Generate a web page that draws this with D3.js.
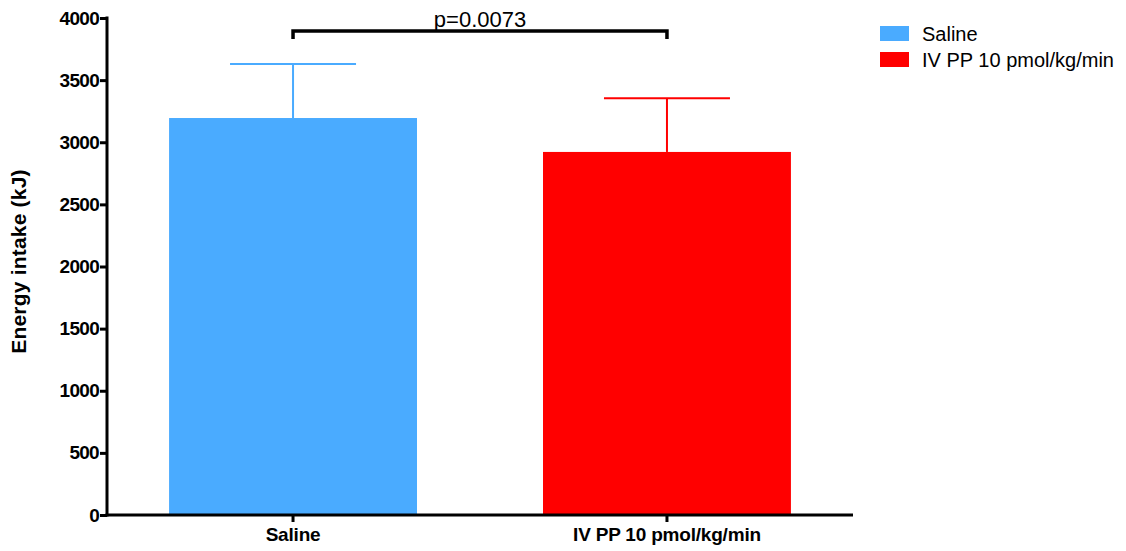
<!DOCTYPE html>
<html>
<head>
<meta charset="utf-8" />
<title>Energy intake</title>
<script src="https://cdn.jsdelivr.net/npm/d3@7/dist/d3.min.js"></script>
<style>
body { margin: 0; background: #fff; }
text { font-family: "Liberation Sans", Arial, sans-serif; }
</style>
</head>
<body>
<div id="chart"></div>
<script>
// values
const groups = ["Saline", "IV PP 10 pmol/kg/min"];
const means = [3195, 2922];
const errors = [435, 433];
const colors = ["#4aabff", "#ff0000"];
const yTicks = [0, 500, 1000, 1500, 2000, 2500, 3000, 3500, 4000];
const pText = "p=0.0073";

const width = 1126, height = 551;
const margin = {top: 18, left: 107, right: 273, bottom: 36};

const svg = d3.select("#chart").append("svg")
	.attr("width", width)
	.attr("height", height);

const x = d3.scaleBand()
	.domain(groups)
	.range([margin.left, width - margin.right])
	.paddingInner(0.337)
	.paddingOuter(0.166);

const y = d3.scaleLinear()
	.domain([0, 4000])
	.range([height - margin.bottom, margin.top]);

// bars
svg.append("g").selectAll("rect")
	.data(groups)
	.enter().append("rect")
		.attr("x", d => x(d))
		.attr("y", (d, i) => y(means[i]))
		.attr("width", x.bandwidth())
		.attr("height", (d, i) => y(0) - y(means[i]))
		.attr("fill", (d, i) => colors[i]);

// error bars (upper only)
const capW = 63;
const eb = svg.append("g");
groups.forEach(function(g, i){
	const cx = x(g) + x.bandwidth() / 2;
	eb.append("line")
		.attr("x1", cx).attr("x2", cx)
		.attr("y1", y(means[i])).attr("y2", y(means[i] + errors[i]))
		.attr("stroke", colors[i]).attr("stroke-width", 2);
	eb.append("line")
		.attr("x1", cx - capW).attr("x2", cx + capW)
		.attr("y1", y(means[i] + errors[i])).attr("y2", y(means[i] + errors[i]))
		.attr("stroke", colors[i]).attr("stroke-width", 2);
});

// y axis
const yAxis = svg.append("g")
	.attr("transform", "translate(" + margin.left + ",0)")
	.call(d3.axisLeft(y).tickValues(yTicks).tickFormat(d3.format("d")).tickSize(7).tickSizeOuter(0));
yAxis.select(".domain").attr("stroke-width", 3).attr("d", "M0," + (y(4000) - 1.5) + "V" + (y(0) + 1.5));
yAxis.selectAll(".tick line").attr("stroke-width", 3);
yAxis.selectAll(".tick text")
	.attr("x", -8)
	.style("font-size", "19px")
	.style("font-weight", "bold")
	.style("letter-spacing", "-0.7px")
	.attr("fill", "#000");

// x axis
const xAxis = svg.append("g")
	.attr("transform", "translate(0," + y(0) + ")")
	.call(d3.axisBottom(x).tickSize(7).tickSizeOuter(0));
xAxis.select(".domain").attr("stroke-width", 3).attr("d", "M" + (margin.left - 1.5) + ",0H" + (width - margin.right));
xAxis.selectAll(".tick line").attr("stroke-width", 3);
xAxis.selectAll(".tick text")
	.attr("y", 13)
	.style("font-size", "19px")
	.style("font-weight", "bold")
	.style("letter-spacing", "-0.2px")
	.attr("fill", "#000");

// y axis title
svg.append("text")
	.attr("transform", "translate(26," + (y(2000) - 5) + ") rotate(-90)")
	.attr("text-anchor", "middle")
	.style("font-size", "21px")
	.style("font-weight", "bold")
	.style("letter-spacing", "0.2px")
	.text("Energy intake (kJ)");

// significance bracket
const bx1 = x(groups[0]) + x.bandwidth() / 2;
const bx2 = x(groups[1]) + x.bandwidth() / 2;
const by = 31;
svg.append("path")
	.attr("d", "M" + bx1 + "," + (by + 8) + "V" + by + "H" + bx2 + "V" + (by + 8))
	.attr("fill", "none")
	.attr("stroke", "#000")
	.attr("stroke-width", 3.5);
svg.append("text")
	.attr("x", (bx1 + bx2) / 2)
	.attr("y", by - 4)
	.attr("text-anchor", "middle")
	.style("font-size", "22px")
	.text(pText);

// legend
const legend = svg.append("g").attr("transform", "translate(880,26)");
groups.forEach(function(g, i){
	const row = legend.append("g").attr("transform", "translate(0," + (i * 26) + ")");
	row.append("rect").attr("width", 29).attr("height", 15).attr("fill", colors[i]);
	row.append("text").attr("x", 42).attr("y", 15).style("font-size", "20px").text(g);
});
</script>
</body>
</html>
